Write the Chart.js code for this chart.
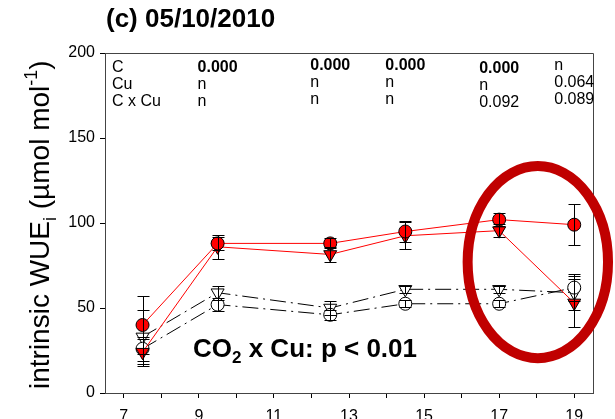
<!DOCTYPE html>
<html>
<head>
<meta charset="utf-8">
<script src="https://cdn.jsdelivr.net/npm/chart.js"></script>
<style>
html, body { margin: 0; padding: 0; background: #fff; overflow: hidden; }
#wrap { width: 615px; height: 440px; }
</style>
</head>
<body>
<div id="wrap"><canvas id="myChart" width="615" height="440"></canvas></div>
<script>
// sampling days
var days = [7.5, 9.5, 12.5, 14.5, 17, 19];

// series (mean and error)
var redCircle = [40, 88, 88, 95, 102, 99];
var redCircleErr = [17, 4, 3, 6, 4, 12];
var redTri = [24, 86, 81.5, 92.5, 95.5, 53];
var redTriErr = [8, 7, 4.5, 8, 4, 14];
var openCircle = [26, 52, 46, 52.5, 52.5, 62];
var openCircleErr = [7, 4, 3, 2, 2, 8];
var openTri = [33, 59, 50, 61, 61, 59];
var openTriErr = [16, 4, 4, 2, 2, 10];

// ticks
var xTicks = [7, 8, 9, 10, 11, 12, 13, 14, 15, 16, 17, 18, 19];
var xLabels = [7, 9, 11, 13, 15, 17, 19];
var yTicks = [0, 50, 100, 150, 200];

// p-value table, one column per day from 9.5 on
var tableRows = ['C', 'Cu', 'C x Cu'];
var tableDays = [9.5, 12.5, 14.5, 17, 19];
var tableCols = [
    ['0.000', 'n', 'n'],
    ['0.000', 'n', 'n'],
    ['0.000', 'n', 'n'],
    ['0.000', 'n', '0.092'],
    ['n', '0.064', '0.089']
];

var FONT = '"Liberation Sans", Arial, sans-serif';
Chart.defaults.font.family = FONT;

function pts(ys) {
    return days.map(function (d, i) { return { x: d, y: ys[i] }; });
}

var errs = [redCircleErr, redTriErr, openCircleErr, openTriErr];

var errorBars = {
    id: 'errorBars',
    afterDatasetsDraw: function (chart) {
        var ctx = chart.ctx, xs = chart.scales.x, ys = chart.scales.y;
        ctx.save();
        ctx.strokeStyle = '#000';
        ctx.lineWidth = 1;
        chart.data.datasets.forEach(function (ds, di) {
            ds.data.forEach(function (p, i) {
                var e = errs[di][i];
                var px = Math.round(xs.getPixelForValue(p.x)) + 0.5;
                var top = Math.round(ys.getPixelForValue(p.y + e)) + 0.5;
                var bot = Math.round(ys.getPixelForValue(p.y - e)) + 0.5;
                ctx.beginPath();
                ctx.moveTo(px, top); ctx.lineTo(px, bot);
                ctx.moveTo(px - 6, top); ctx.lineTo(px + 6, top);
                ctx.moveTo(px - 6, bot); ctx.lineTo(px + 6, bot);
                ctx.stroke();
            });
        });
        ctx.restore();
    }
};

function richText(ctx, x, y, parts) {
    parts.forEach(function (p) {
        ctx.font = p.font;
        ctx.fillText(p.t, x, y + (p.dy || 0));
        x += ctx.measureText(p.t).width;
    });
}

var decorations = {
    id: 'decorations',
    afterDraw: function (chart) {
        var ctx = chart.ctx, a = chart.chartArea, xs = chart.scales.x, ys = chart.scales.y;
        ctx.save();
        // box top / right
        ctx.strokeStyle = '#444';
        ctx.lineWidth = 1;
        ctx.beginPath();
        ctx.moveTo(a.left, a.top + 0.5); ctx.lineTo(a.right + 0.5, a.top + 0.5);
        ctx.lineTo(a.right + 0.5, a.bottom);
        ctx.stroke();

        ctx.fillStyle = '#000';
        ctx.textAlign = 'left';
        ctx.textBaseline = 'alphabetic';

        // panel title
        ctx.font = 'bold 26px ' + FONT;
        ctx.fillText('(c) 05/10/2010', 106, 27);

        // p-value table
        ctx.font = '16px ' + FONT;
        var rowY = [72, 89, 106];
        tableRows.forEach(function (r, i) { ctx.fillText(r, 112, rowY[i]); });
        var lift = [0, 2.5, 2.5, -1, 2.5];
        tableCols.forEach(function (col, c) {
            var cx = xs.getPixelForValue(tableDays[c]) - 20;
            col.forEach(function (v, r) {
                ctx.font = (v === '0.000' ? 'bold ' : '') + '16px ' + FONT;
                ctx.fillText(v, cx, rowY[r] - lift[c]);
            });
        });

        // interaction label
        richText(ctx, 193, 357, [
            { t: 'CO', font: 'bold 26px ' + FONT },
            { t: '2', font: 'bold 17px ' + FONT, dy: 6 },
            { t: ' x Cu: p < 0.01', font: 'bold 26px ' + FONT }
        ]);

        // y axis title
        ctx.save();
        ctx.translate(49, 389);
        ctx.rotate(-Math.PI / 2);
        richText(ctx, 0, 0, [
            { t: 'intrinsic WUE', font: '28px ' + FONT },
            { t: 'i', font: '18px ' + FONT, dy: 7 },
            { t: ' (', font: '28px ' + FONT },
            { t: '\u00b5', font: '28px ' + FONT },
            { t: 'mol mol', font: '28px ' + FONT },
            { t: '-1', font: '18px ' + FONT, dy: -12 },
            { t: ')', font: '28px ' + FONT }
        ]);
        ctx.restore();

        // highlight ellipse
        var cx = xs.getPixelForValue(18.03), cy = ys.getPixelForValue(77);
        var rx = xs.getPixelForValue(18.03 + 1.87) - cx;
        var ry = cy - ys.getPixelForValue(77 + 56.5);
        ctx.strokeStyle = '#C00000';
        ctx.lineWidth = 10;
        ctx.beginPath();
        ctx.ellipse(cx, cy, rx, ry, 0, 0, Math.PI * 2);
        ctx.stroke();
        ctx.restore();
    }
};

var ctx = document.getElementById('myChart').getContext('2d');
var chart = new Chart(ctx, {
    type: 'line',
    data: {
        datasets: [{
            data: pts(redCircle),
            borderColor: '#ff0000', borderWidth: 1,
            pointStyle: 'circle', pointRadius: 6.5,
            pointBackgroundColor: '#ff0000', pointBorderColor: '#000', pointBorderWidth: 1
        }, {
            data: pts(redTri),
            borderColor: '#ff0000', borderWidth: 1,
            pointStyle: 'triangle', pointRotation: 180, pointRadius: 7.5,
            pointBackgroundColor: '#ff0000', pointBorderColor: '#000', pointBorderWidth: 1
        }, {
            data: pts(openCircle),
            borderColor: '#000', borderWidth: 1, borderDash: [16, 5, 2, 5],
            pointStyle: 'circle', pointRadius: 6.5,
            pointBackgroundColor: '#fff', pointBorderColor: '#000', pointBorderWidth: 1
        }, {
            data: pts(openTri),
            borderColor: '#000', borderWidth: 1, borderDash: [16, 5, 2, 5],
            pointStyle: 'triangle', pointRotation: 180, pointRadius: 7.5,
            pointBackgroundColor: '#fff', pointBorderColor: '#000', pointBorderWidth: 1
        }]
    },
    options: {
        responsive: false,
        animation: false,
        devicePixelRatio: 1,
        layout: { padding: { left: 0, right: 22, top: 53, bottom: 0 } },
        plugins: { legend: { display: false }, tooltip: { enabled: false } },
        elements: { line: { tension: 0 } },
        scales: {
            x: {
                type: 'linear', min: 6.5, max: 19.5,
                afterBuildTicks: function (s) { s.ticks = xTicks.map(function (v) { return { value: v }; }); },
                afterFit: function (s) { s.height = 47; },
                grid: { drawOnChartArea: false, drawTicks: true, tickLength: 5, color: '#000' },
                border: { color: '#444', width: 1 },
                ticks: {
                    autoSkip: false, maxRotation: 0, padding: 9, color: '#000',
                    font: { size: 16 },
                    callback: function (v) { return xLabels.indexOf(v) >= 0 ? String(v) : ''; }
                }
            },
            y: {
                min: 0, max: 200,
                afterBuildTicks: function (s) { s.ticks = yTicks.map(function (v) { return { value: v }; }); },
                afterFit: function (s) { s.width = 105; },
                grid: { drawOnChartArea: false, drawTicks: true, tickLength: 5, color: '#000' },
                border: { color: '#444', width: 1 },
                ticks: { padding: 5, color: '#000', font: { size: 16 } }
            }
        }
    },
    plugins: [errorBars, decorations]
});
</script>
</body>
</html>
